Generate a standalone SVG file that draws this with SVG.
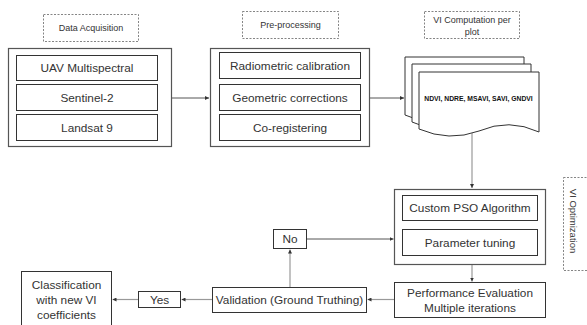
<svg xmlns="http://www.w3.org/2000/svg" width="587" height="325" viewBox="0 0 587 325">
<defs>
<style>
.t{font-family:"Liberation Sans",Arial,sans-serif;font-size:11.8px;fill:#333;text-anchor:middle;dominant-baseline:central}
.s{font-family:"Liberation Sans",Arial,sans-serif;font-size:9px;fill:#333;text-anchor:middle;dominant-baseline:central}
.b{font-family:"Liberation Sans",Arial,sans-serif;font-size:6.8px;font-weight:bold;fill:#111;text-anchor:middle;dominant-baseline:central}
.box{fill:#fff;stroke:#333;stroke-width:1}
.outer{fill:#fff;stroke:#555;stroke-width:1.2}
.dash{fill:#fff;stroke:#666;stroke-width:0.8;stroke-dasharray:2 1.5}
.doc{fill:#fff;stroke:#333;stroke-width:1}
.c{fill:none;stroke:#999;stroke-width:1.2}
.cd{fill:none;stroke:#555;stroke-width:1}
</style>
<marker id="ah" viewBox="0 0 6 6" refX="6" refY="3" markerWidth="4" markerHeight="4" orient="auto" markerUnits="userSpaceOnUse">
<path d="M0,0 L6,3 L0,6 z" fill="#333"/>
</marker>
</defs>

<g id="label-data-acquisition">
<rect class="dash" x="43.5" y="14.5" width="95" height="27"/>
<text class="s" x="91" y="28">Data Acquisition</text>
</g>
<g id="label-preprocessing">
<rect class="dash" x="242.5" y="11.5" width="96" height="27"/>
<text class="s" x="290.5" y="25">Pre-processing</text>
</g>
<g id="label-vi-computation">
<rect class="dash" x="424.5" y="11.5" width="95" height="27"/>
<text class="s" x="472" y="19.5">VI Computation per</text>
<text class="s" x="472" y="31.5">plot</text>
</g>
<g id="label-vi-optimization">
<rect class="dash" x="563.5" y="177.5" width="30" height="93"/>
<text class="s" transform="translate(573,221) rotate(90)" x="0" y="0" style="font-size:9.5px">VI Optimization</text>
</g>

<g id="connectors">
<path class="c" d="M157,68 H163 V127 H157 M157,97.5 H163"/>
<path class="cd" d="M172,98 H209" marker-end="url(#ah)"/>
<path class="cd" d="M370,98 H404" marker-end="url(#ah)"/>
<path class="c" d="M472,132 V188" marker-end="url(#ah)"/>
<path class="c" d="M472,264 V281.5" marker-end="url(#ah)"/>
<path class="c" d="M394,299.5 H367.5" marker-end="url(#ah)"/>
<path class="c" d="M212,299.5 H181.5" marker-end="url(#ah)"/>
<path class="c" d="M138,299.5 H112.5" marker-end="url(#ah)"/>
<path class="c" d="M290,287 V249.5" marker-end="url(#ah)"/>
<path class="cd" d="M307,239 H393.5" marker-end="url(#ah)"/>
</g>

<g id="data-acquisition">
<rect class="outer" x="8.5" y="48.5" width="163" height="98"/>
<g id="uav"><rect class="box" x="16.5" y="55.5" width="141" height="25"/><text class="t" x="87" y="68">UAV Multispectral</text></g>
<g id="sentinel"><rect class="box" x="16.5" y="84.5" width="141" height="26"/><text class="t" x="87" y="97.5">Sentinel-2</text></g>
<g id="landsat"><rect class="box" x="16.5" y="114.5" width="141" height="26"/><text class="t" x="87" y="127.5">Landsat 9</text></g>
</g>

<g id="preprocessing">
<rect class="outer" x="210.5" y="48.5" width="159" height="98"/>
<g id="radiometric"><rect class="box" x="219.5" y="52.5" width="141" height="26"/><text class="t" x="290" y="65.5">Radiometric calibration</text></g>
<g id="geometric"><rect class="box" x="219.5" y="84.5" width="141" height="26"/><text class="t" x="290" y="97.5">Geometric corrections</text></g>
<g id="coregistering"><rect class="box" x="219.5" y="114.5" width="141" height="26"/><text class="t" x="290" y="127.5">Co-registering</text></g>
</g>

<g id="vi-documents">
<path class="doc" d="M405,57 H524 V117 Q494,103 464,116 Q434,129 405,115 Z"/>
<path class="doc" d="M412,64 H531 V124 Q501,110 471,123 Q441,136 412,122 Z"/>
<path class="doc" d="M419,72 H539 V132 Q509,118 479,131 Q449,142 419,129 Z"/>
<text class="b" x="478.5" y="98.5">NDVI, NDRE, MSAVI, SAVI, GNDVI</text>
</g>

<g id="vi-optimization">
<rect class="outer" x="394.5" y="189.5" width="151" height="75"/>
<g id="pso"><rect class="box" x="402.5" y="195.5" width="135" height="25"/><text class="t" x="470" y="208">Custom PSO Algorithm</text></g>
<g id="param"><rect class="box" x="402.5" y="229.5" width="135" height="26"/><text class="t" x="470" y="242.5">Parameter tuning</text></g>
</g>

<g id="performance">
<rect class="box" x="394.5" y="282.5" width="151" height="35"/>
<text class="t" x="470" y="292.5">Performance Evaluation</text>
<text class="t" x="470" y="307.5">Multiple iterations</text>
</g>

<g id="validation">
<rect class="box" x="212.5" y="287.5" width="154" height="25"/>
<text class="t" x="289.5" y="300">Validation (Ground Truthing)</text>
</g>

<g id="no">
<rect class="box" x="273.5" y="229.5" width="33" height="19"/>
<text class="t" x="290" y="239">No</text>
</g>

<g id="yes">
<rect class="box" x="138.5" y="291.5" width="42" height="16"/>
<text class="t" x="159.5" y="299.5">Yes</text>
</g>

<g id="classification">
<rect class="box" x="21.5" y="271.5" width="90" height="60"/>
<text class="t" x="66.5" y="285">Classification</text>
<text class="t" x="66.5" y="300">with new VI</text>
<text class="t" x="66.5" y="315">coefficients</text>
</g>
</svg>
